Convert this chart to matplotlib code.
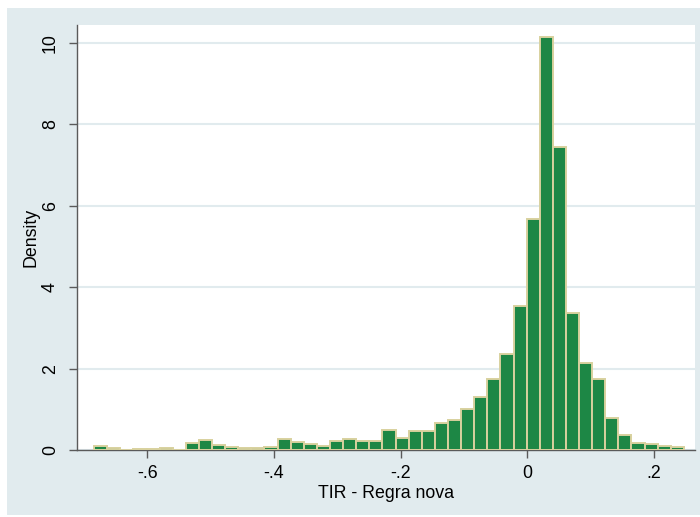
import matplotlib.pyplot as plt
from matplotlib.patches import Rectangle

plt.rcParams['font.family'] = ['Liberation Sans', 'DejaVu Sans']

# histogram of TIR (new rule): 45 bins, density scale
bin_start = -0.684
bin_width = 0.0207
density = [0.10, 0.04, 0.01, 0.03, 0.03, 0.04, 0.01, 0.17, 0.25, 0.12,
           0.08, 0.05, 0.04, 0.07, 0.28, 0.19, 0.15, 0.11, 0.21, 0.27,
           0.22, 0.22, 0.50, 0.30, 0.47, 0.47, 0.67, 0.74, 1.00, 1.31,
           1.75, 2.36, 3.53, 5.67, 10.15, 7.44, 3.37, 2.13, 1.74, 0.79,
           0.38, 0.18, 0.15, 0.11, 0.07]
xticks = [-0.6, -0.4, -0.2, 0.0, 0.2]
xtick_labels = ['-.6', '-.4', '-.2', '0', '.2']
yticks = [0, 2, 4, 6, 8, 10]

lefts = [bin_start + i * bin_width for i in range(len(density))]

W, H = 700, 517
fig = plt.figure(figsize=(W / 100, H / 100), dpi=100, facecolor='white')
# graph region background, kept behind the axes
bg = Rectangle((7 / W, 2 / H), 1 - 7 / W, (515 - 8) / H,
               transform=fig.transFigure, facecolor='#e1ebee',
               edgecolor='none', zorder=-10)
fig.add_artist(bg)

ax = fig.add_axes([77 / W, (H - 450) / H, (695 - 77) / W, (450 - 25) / H])
ax.set_zorder(1)
ax.set_facecolor('white')

ax.bar(lefts, density, width=bin_width, align='edge', color='#1d8745',
       edgecolor='#d8d19e', linewidth=1.4, zorder=3)

ax.set_xlim(-0.711, 0.265)
ax.set_ylim(0, 10.44)
ax.set_yticks(yticks)
ax.set_yticklabels([str(v) for v in yticks], rotation=90, va='center')
ax.set_xticks(xticks)
ax.set_xticklabels(xtick_labels)
ax.grid(axis='y', color='#e1ebee', linewidth=1.5, zorder=0)
ax.set_axisbelow(True)

for side in ('top', 'right'):
    ax.spines[side].set_visible(False)
for side in ('left', 'bottom'):
    ax.spines[side].set_color('#5a5a5a')
    ax.spines[side].set_linewidth(1.0)
ax.tick_params(axis='both', direction='out', length=6, width=1.0,
               color='#5a5a5a', labelsize=12.8, labelcolor='black')
ax.tick_params(axis='y', pad=7)
ax.tick_params(axis='x', pad=5)

ax.set_xlabel('TIR - Regra nova', fontsize=12.8, labelpad=2)
ax.set_ylabel('Density', fontsize=12.8, labelpad=2)

fig.savefig('out.png', dpi=100, facecolor='white')
